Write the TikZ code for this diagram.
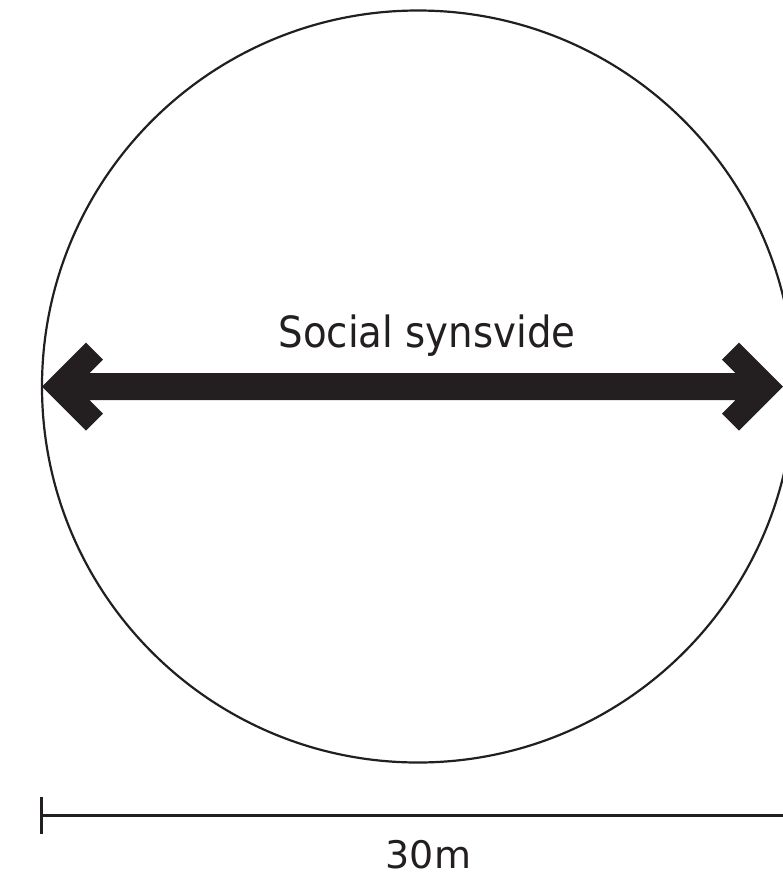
\documentclass[tikz,border=0pt]{standalone}
\usepackage{fontspec}
\setmainfont{DejaVu Sans}
\definecolor{inkdark}{HTML}{231F20}

\begin{document}
\begin{tikzpicture}[
        x=1pt, y=-1pt,
        outline/.style = {draw=inkdark, line width=2.2pt},
        scalebar/.style = {draw=inkdark, line width=3pt},
        arrowbody/.style = {fill=inkdark},
        bigtext/.style = {anchor=base, text=inkdark, inner sep=0pt, font=\fontsize{43}{52}\selectfont},
        scaletext/.style = {anchor=base, text=inkdark, inner sep=0pt, font=\fontsize{38}{46}\selectfont}
    ]
    \useasboundingbox (0,0) rectangle (783,887);
    \clip (0,0) rectangle (783,887);
    % circle
    \coordinate (centre) at (418,386.5);
    \draw[outline] (centre) circle[radius=376];
    % double arrow across the circle
    \fill[arrowbody] (42,386.5) -- (86,342.5) -- (103,359.5) -- (89.5,373)
        -- (735.5,373) -- (722,359.5) -- (739,342.5) -- (783,386.5)
        -- (739,430.5) -- (722,413.5) -- (735.5,400)
        -- (89.5,400) -- (103,413.5) -- (86,430.5) -- cycle;
    \node[bigtext] (label) at (427,347) {\scalebox{0.9}[1]{Social synsvide}};
    % scale bar
    \coordinate (barstart) at (41,815);
    \coordinate (barend) at (783,815);
    \coordinate (ticktop) at (41,797);
    \coordinate (tickbottom) at (41,834);
    \draw[scalebar] (barstart) -- (barend);
    \draw[scalebar] (ticktop) -- (tickbottom);
    \node[scaletext] (length) at (428.5,868) {30m};
\end{tikzpicture}
\end{document}
